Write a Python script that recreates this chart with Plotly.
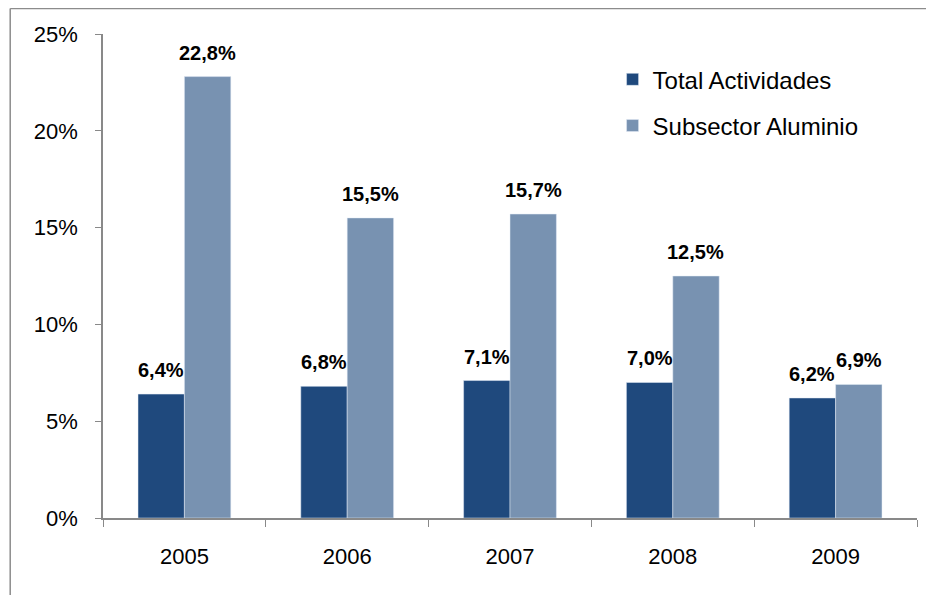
import plotly.graph_objects as go

years = ["2005", "2006", "2007", "2008", "2009"]
total_actividades = [6.4, 6.8, 7.1, 7.0, 6.2]
subsector_aluminio = [22.8, 15.5, 15.7, 12.5, 6.9]
y_ticks = [0, 5, 10, 15, 20, 25]


def pct_label(v):
    # comma decimal, as in the source
    return "<b>" + f"{v:.1f}".replace(".", ",") + "%</b>"


fig = go.Figure()
fig.add_trace(go.Bar(x=years, y=total_actividades, name="Total Actividades",
                     marker_color="#1F497D", legendgroup="a"))
fig.add_trace(go.Bar(x=years, y=subsector_aluminio, name="Subsector Aluminio",
                     marker_color="#7892B1", legendgroup="b"))

# value labels sit a bit higher above the bars than plotly's "outside" text
# (annotation x is the category index; year strings get read as numbers)
half_bar = 162.8 * (1 - 0.43) / 4
for shift, series in ((-half_bar, total_actividades), (half_bar, subsector_aluminio)):
    for i, v in enumerate(series):
        fig.add_annotation(x=i, y=v, text=pct_label(v), showarrow=False,
                           xshift=shift, yshift=24, yanchor="middle",
                           font=dict(size=20, color="black"))

axis_grey = "#898989"

# page body has an 8px margin, so the figure is sized/offset for that
fig.update_layout(
    width=926, height=587,
    margin=dict(l=95, r=17, t=26, b=77),
    paper_bgcolor="white", plot_bgcolor="white",
    font=dict(family="Liberation Sans, Arial, sans-serif", size=21, color="black"),
    barmode="group", bargap=0.43, bargroupgap=0,
    showlegend=True,
    legend=dict(x=0.626, y=0.952, xanchor="left", yanchor="top",
                font=dict(size=24), tracegroupgap=12, itemwidth=30,
                bgcolor="rgba(0,0,0,0)"),
)

fig.update_xaxes(
    type="category", range=[-0.5, len(years) - 0.5],
    showline=True, linecolor=axis_grey, linewidth=1.5,
    ticks="outside", tickson="boundaries", ticklen=7, tickcolor=axis_grey,
    showgrid=False, ticklabelstandoff=18, tickfont=dict(size=22),
)
fig.update_yaxes(
    range=[0, 25], tickvals=y_ticks, ticktext=[f"{v}%" for v in y_ticks],
    showline=True, linecolor=axis_grey, linewidth=1.5,
    ticks="outside", ticklen=6, tickcolor=axis_grey,
    showgrid=False, zeroline=False, ticklabelstandoff=13, tickfont=dict(size=22),
)

# outer chart frame: only top and left edges are visible in the source
frame = dict(color="#8C8C8C", width=1.5)
fig.add_shape(type="line", xref="paper", yref="paper",
              x0=-0.114, x1=1.05, y0=1.0527, y1=1.0527, line=frame, layer="below")
fig.add_shape(type="line", xref="paper", yref="paper",
              x0=-0.114, x1=-0.114, y0=-0.2, y1=1.0527, line=frame, layer="below")

fig.write_html("out.html")
